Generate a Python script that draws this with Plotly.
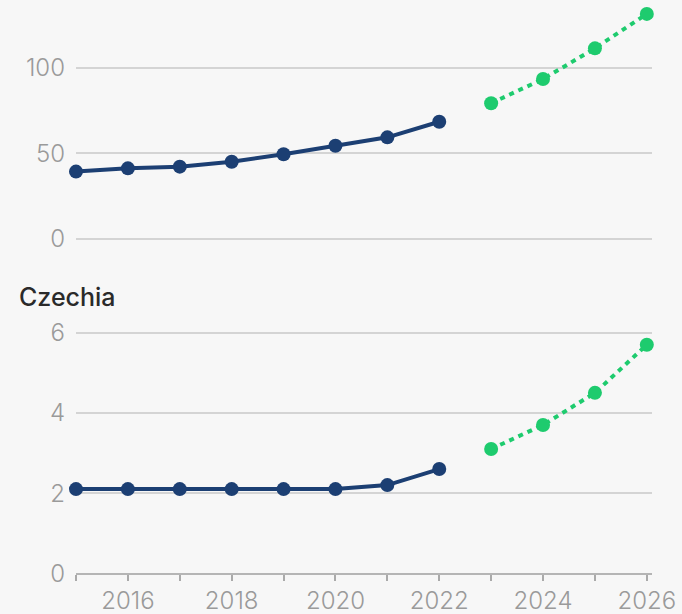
import plotly.graph_objects as go

years_actual = [2015, 2016, 2017, 2018, 2019, 2020, 2021, 2022]
years_forecast = [2023, 2024, 2025, 2026]

top_actual = [39.3, 41.2, 42.2, 45.1, 49.4, 54.4, 59.3, 68.4]
top_forecast = [79.2, 93.3, 111.2, 131.3]

czechia_actual = [2.1, 2.1, 2.1, 2.1, 2.1, 2.1, 2.2, 2.6]
czechia_forecast = [3.1, 3.7, 4.5, 5.7]

x_ticks = list(range(2015, 2027))
x_labels = [str(y) if y % 2 == 0 else "" for y in x_ticks]

NAVY = "#1c3f73"
GREEN = "#1ecb6e"
BG = "#f7f7f7"
GRID = "#d4d4d4"
TICK_FONT = dict(family="Inter", size=24, color="#9a9a9a", weight=300)


def add_pair(fig, actual, forecast, xref, yref):
    fig.add_trace(go.Scatter(
        x=years_actual, y=actual, mode="lines+markers",
        line=dict(color=NAVY, width=4),
        marker=dict(color=NAVY, size=14),
        xaxis=xref, yaxis=yref, cliponaxis=False, showlegend=False,
    ))
    fig.add_trace(go.Scatter(
        x=years_forecast, y=forecast, mode="lines+markers",
        line=dict(color=GREEN, width=4, dash="5px,5px"),
        marker=dict(color=GREEN, size=14),
        xaxis=xref, yaxis=yref, cliponaxis=False, showlegend=False,
    ))


fig = go.Figure()
add_pair(fig, top_actual, top_forecast, "x", "y")
add_pair(fig, czechia_actual, czechia_forecast, "x2", "y2")

x_common = dict(range=[2015, 2026.1], domain=[76 / 682, 652 / 682],
                showgrid=False, zeroline=False, fixedrange=True,
                automargin=False)
y_common = dict(showgrid=True, gridcolor=GRID, gridwidth=1.5,
                zeroline=True, zerolinecolor=GRID, zerolinewidth=1.5,
                tickfont=TICK_FONT, ticklabelstandoff=10, automargin=False)

fig.update_layout(
    width=682, height=614,
    margin=dict(l=0, r=0, t=0, b=0),
    paper_bgcolor=BG, plot_bgcolor=BG,
    font=dict(family="Inter"),
    xaxis=dict(**x_common, anchor="y", showticklabels=False, ticks=""),
    yaxis=dict(**y_common, range=[0, 139.4], domain=[(614 - 239) / 614, 1.0],
               tickvals=[0, 50, 100], anchor="x"),
    xaxis2=dict(**x_common, anchor="y2", tickvals=x_ticks, ticktext=x_labels,
                ticks="outside", ticklen=6, tickwidth=1.5, tickcolor="#aaaaaa",
                showline=True, linecolor="#b5b5b5", linewidth=1.5,
                tickfont=TICK_FONT, ticklabelstandoff=-1),
    yaxis2=dict(**y_common, range=[0, 6.3],
                domain=[(614 - 573.3) / 614, (614 - 320.7) / 614],
                tickvals=[0, 2, 4, 6], anchor="x2"),
    annotations=[dict(
        text="Czechia", x=17 / 682, y=(614 - 296.7) / 614,
        xref="paper", yref="paper", xanchor="left", yanchor="middle",
        showarrow=False,
        font=dict(family="Inter", size=25, color="#2a2a2a", weight=500),
    )],
)

# the page's default body margin would push the figure 8px off the window
fig.write_html(
    "out.html",
    config={"displayModeBar": False},
    post_script="document.body.style.margin='0';"
                "document.body.style.background='#f7f7f7';",
)
